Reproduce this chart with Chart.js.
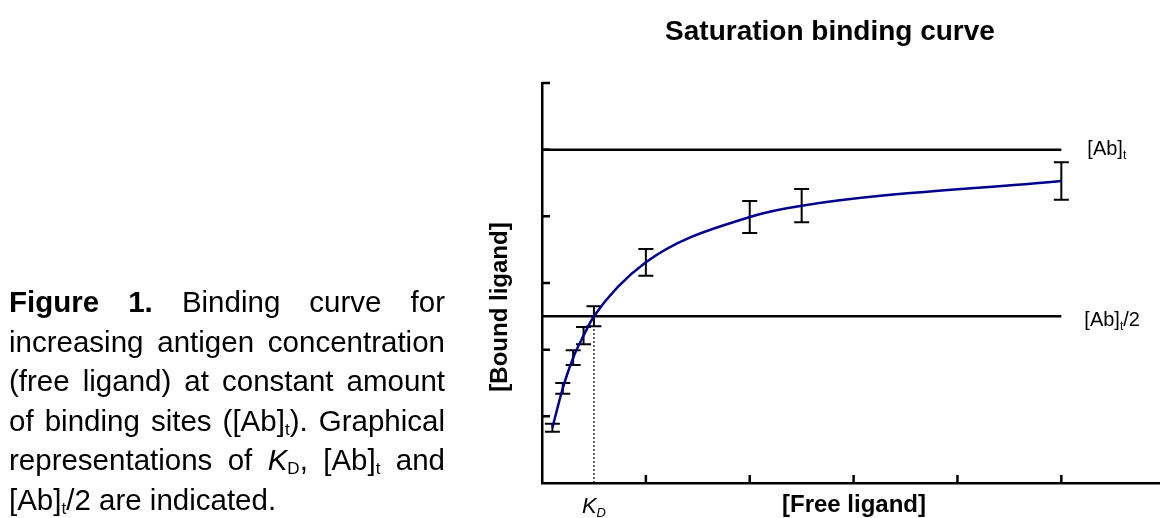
<!DOCTYPE html>
<html>
<head>
<meta charset="utf-8">
<script src="https://cdn.jsdelivr.net/npm/chart.js@4.4.0/dist/chart.umd.min.js"></script>
<style>
  html, body { margin: 0; padding: 0; background: #fff; }
  body { width: 1160px; height: 518px; position: relative; overflow: hidden; font-family: "Liberation Sans", Arial, sans-serif; }
  #wrap { position: absolute; left: 0; top: 0; width: 1160px; height: 518px; }
  .caption { position: absolute; left: 9px; top: 282px; width: 436px; font-size: 29.5px; line-height: 39.6px; text-align: justify; color: #000; }
  .caption sub { font-size: 17px; vertical-align: -4px; line-height: 0; }
</style>
</head>
<body>
<div id="wrap"><canvas id="binding"></canvas></div>
<div class="caption"><b>Figure 1.</b> Binding curve for increasing antigen concentration (free ligand) at constant amount of binding sites ([Ab]<sub>t</sub>). Graphical representations of <i>K</i><sub>D</sub>, [Ab]<sub>t</sub> and [Ab]<sub>t</sub>/2 are indicated.</div>
<script>
// values (arbitrary units)
const freeLigand = [0.1, 0.2, 0.3, 0.4, 0.5, 1.0, 2.0, 2.5, 5.0];
const boundLigand = [0.83, 1.42, 1.88, 2.21, 2.5, 3.31, 3.99, 4.16, 4.53];
const boundError = [0.06, 0.08, 0.11, 0.13, 0.15, 0.2, 0.24, 0.25, 0.28];
const abTotal = 5;
const kd = 0.5;

const FONT = '"Liberation Sans", Arial, sans-serif';
const xEnd = freeLigand[freeLigand.length - 1];

const curve = freeLigand.map((x, i) => ({ x: x, y: boundLigand[i] }));

// error bars drawn under the curve
const errorBars = {
  id: 'errorBars',
  beforeDatasetsDraw(chart) {
    const ctx = chart.ctx;
    const xs = chart.scales.x, ys = chart.scales.y;
    ctx.save();
    ctx.strokeStyle = '#000';
    ctx.lineWidth = 2;
    freeLigand.forEach((x, i) => {
      const px = xs.getPixelForValue(x);
      const top = ys.getPixelForValue(boundLigand[i] + boundError[i]);
      const bot = ys.getPixelForValue(boundLigand[i] - boundError[i]);
      ctx.beginPath();
      ctx.moveTo(px, top); ctx.lineTo(px, bot);
      ctx.moveTo(px - 7.5, top); ctx.lineTo(px + 7.5, top);
      ctx.moveTo(px - 7.5, bot); ctx.lineTo(px + 7.5, bot);
      ctx.stroke();
    });
    ctx.restore();
  }
};

// inward tick marks and all the labels
const decorations = {
  id: 'decorations',
  afterDraw(chart) {
    const ctx = chart.ctx;
    const xs = chart.scales.x, ys = chart.scales.y;
    const area = chart.chartArea;
    ctx.save();
    ctx.strokeStyle = '#000';
    ctx.lineWidth = 2.5;
    ctx.beginPath();
    ys.ticks.forEach(t => {
      if (t.value <= 0) return;
      const py = ys.getPixelForValue(t.value);
      ctx.moveTo(area.left, py); ctx.lineTo(area.left + 8, py);
    });
    xs.ticks.forEach(t => {
      if (t.value <= 0 || t.value % 1 !== 0) return;
      const px = xs.getPixelForValue(t.value);
      ctx.moveTo(px, area.bottom); ctx.lineTo(px, area.bottom - 8);
    });
    ctx.stroke();

    ctx.fillStyle = '#000';
    ctx.textBaseline = 'alphabetic';

    // title
    ctx.font = 'bold 28px ' + FONT;
    ctx.textAlign = 'center';
    ctx.fillText('Saturation binding curve', 830, 40);

    // x axis title
    ctx.font = 'bold 24px ' + FONT;
    ctx.fillText('[Free ligand]', (area.left + area.right) / 2 + 3, 512);

    // y axis title
    ctx.save();
    ctx.translate(500, 307);
    ctx.rotate(-Math.PI / 2);
    ctx.textBaseline = 'middle';
    ctx.fillText('[Bound ligand]', 0, 0);
    ctx.restore();

    // K_D label
    ctx.textAlign = 'left';
    const kx = xs.getPixelForValue(kd);
    ctx.font = 'italic 22px ' + FONT;
    const kw = ctx.measureText('K').width;
    ctx.font = 'italic 13px ' + FONT;
    const dw = ctx.measureText('D').width;
    const kStart = kx - (kw + dw) / 2;
    ctx.font = 'italic 22px ' + FONT;
    ctx.fillText('K', kStart, 513);
    ctx.font = 'italic 13px ' + FONT;
    ctx.fillText('D', kStart + kw, 517);

    // [Ab]t and [Ab]t/2 labels
    const subLabel = (x, y, tail) => {
      ctx.font = '20px ' + FONT;
      ctx.fillText('[Ab]', x, y);
      let w = ctx.measureText('[Ab]').width;
      ctx.font = '12px ' + FONT;
      ctx.fillText('t', x + w, y + 4);
      w += ctx.measureText('t').width;
      if (tail) {
        ctx.font = '20px ' + FONT;
        ctx.fillText(tail, x + w, y);
      }
    };
    const lx = xs.getPixelForValue(xEnd);
    subLabel(lx + 26, ys.getPixelForValue(abTotal) + 5, '');
    subLabel(lx + 23, ys.getPixelForValue(abTotal / 2) + 10, '/2');
    ctx.restore();
  }
};

new Chart(document.getElementById('binding'), {
  type: 'line',
  data: {
    datasets: [
      {
        label: 'Bound ligand',
        data: curve,
        borderColor: '#00008b',
        borderWidth: 2.5,
        pointRadius: 0,
        cubicInterpolationMode: 'monotone',
        fill: false
      },
      {
        label: '[Ab]t',
        data: [{ x: 0, y: abTotal }, { x: xEnd, y: abTotal }],
        borderColor: '#000',
        borderWidth: 2.5,
        pointRadius: 0
      },
      {
        label: '[Ab]t/2',
        data: [{ x: 0, y: abTotal / 2 }, { x: xEnd, y: abTotal / 2 }],
        borderColor: '#000',
        borderWidth: 2.5,
        pointRadius: 0
      },
      {
        label: 'KD',
        data: [{ x: kd, y: 0 }, { x: kd, y: abTotal / 2 }],
        borderColor: '#000',
        borderWidth: 1.2,
        borderDash: [2, 2],
        pointRadius: 0
      }
    ]
  },
  options: {
    responsive: true,
    maintainAspectRatio: false,
    animation: false,
    layout: { padding: { left: 542, right: 0, top: 83, bottom: 35 } },
    plugins: { legend: { display: false }, tooltip: { enabled: false }, title: { display: false } },
    scales: {
      x: {
        type: 'linear',
        min: 0,
        max: 5.95,
        ticks: { stepSize: 1, display: false, includeBounds: false },
        grid: { display: true, drawOnChartArea: false, drawTicks: false },
        border: { display: true, color: '#000', width: 2.5 },
        afterFit(scale) { scale.height = 0; }
      },
      y: {
        type: 'linear',
        min: 0,
        max: 6,
        ticks: { stepSize: 1, display: false },
        grid: { display: true, drawOnChartArea: false, drawTicks: false },
        border: { display: true, color: '#000', width: 2.5 },
        afterFit(scale) { scale.width = 0; }
      }
    }
  },
  plugins: [errorBars, decorations]
});
</script>
</body>
</html>
